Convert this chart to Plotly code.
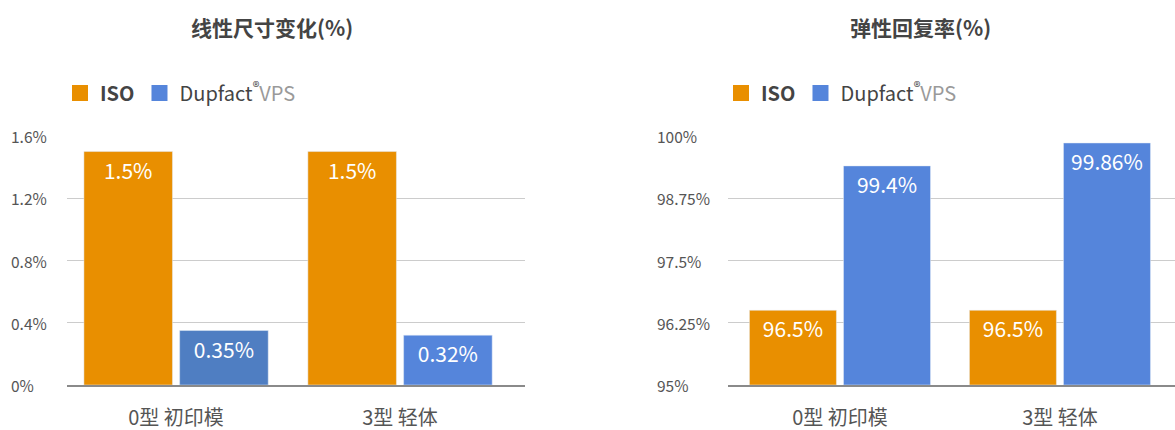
import plotly.graph_objects as go

categories = ["0型 初印模", "3型 轻体"]
linear_iso = [1.5, 1.5]
linear_dup = [0.35, 0.32]
recovery_iso = [96.5, 96.5]
recovery_dup = [99.4, 99.86]
left_ticks = [0, 0.4, 0.8, 1.2, 1.6]
left_ticktext = ["0%", "0.4%", "0.8%", "1.2%", "1.6%"]
right_ticks = [95, 96.25, 97.5, 98.75, 100]
right_ticktext = ["95%", "96.25%", "97.5%", "98.75%", "100%"]
titles = ["线性尺寸变化(%)", "弹性回复率(%)"]

ORANGE = "#E98F00"
BLUE = "#5585DB"
BLUE_DARK = "#4F7EC2"
FONT = "Noto Sans CJK SC, Noto Sans, sans-serif"

iso_name = "<b>ISO</b>"
dup_name = "Dupfact<sup>®</sup><span style='color:#9a9a9a'>VPS</span>"

fig = go.Figure()

def fmt(v):
    return ("%g" % v) + "%"

lab_font = dict(family=FONT, size=21, color="white")
bar_common = dict(textposition="inside", insidetextanchor="end", textfont=lab_font,
                  hoverinfo="skip", constraintext="none", textangle=0, showlegend=False)

fig.add_trace(go.Bar(x=categories, y=linear_iso, marker_color=ORANGE,
                     text=[fmt(v) for v in linear_iso], xaxis="x", yaxis="y", **bar_common))
fig.add_trace(go.Bar(x=categories, y=linear_dup, marker_color=[BLUE_DARK, BLUE],
                     text=[fmt(v) for v in linear_dup], xaxis="x", yaxis="y", **bar_common))
fig.add_trace(go.Bar(x=categories, y=[v - 95 for v in recovery_iso], base=95, marker_color=ORANGE,
                     text=[fmt(v) for v in recovery_iso], xaxis="x2", yaxis="y2", **bar_common))
fig.add_trace(go.Bar(x=categories, y=[v - 95 for v in recovery_dup], base=95, marker_color=BLUE,
                     text=[fmt(v) for v in recovery_dup], xaxis="x2", yaxis="y2", **bar_common))

# legend-only entries with larger square swatches
for lg, xa, ya in [("legend", "x", "y"), ("legend2", "x2", "y2")]:
    for nm, col in [(iso_name, ORANGE), (dup_name, BLUE)]:
        fig.add_trace(go.Scatter(x=[None], y=[None], mode="markers", name=nm,
                                 marker=dict(symbol="square", size=18, color=col),
                                 xaxis=xa, yaxis=ya, legend=lg, hoverinfo="skip"))

W, H = 1175, 430
ml, mr, mt, mb = 67, 0, 136, 45
pw = W - ml - mr
ph = H - mt - mb
def dx(px):
    return (px - ml) / pw
def dy(py):
    return (H - mb - py) / ph

axis_common = dict(showgrid=False, showline=True, linecolor="#8a8a8a", linewidth=2,
                   ticks="", ticklabelstandoff=14, automargin=False,
                   tickfont=dict(family=FONT, size=20, color="#555"), fixedrange=True)
yaxis_common = dict(showgrid=True, gridcolor="#cccccc", gridwidth=1, zeroline=False, showline=False,
                    ticks="", showticklabels=False, automargin=False, fixedrange=True)

leg_common = dict(orientation="h", xref="container", yref="container", yanchor="middle",
                  xanchor="left", font=dict(family=FONT, size=20, color="#444"),
                  itemsizing="trace", bgcolor="rgba(0,0,0,0)", traceorder="normal",
                  itemclick=False, itemdoubleclick=False, tracegroupgap=0)

annotations = []
for t, cx in zip(titles, [272, 920]):
    annotations.append(dict(text="<b>" + t + "</b>", x=dx(cx), y=dy(27), xref="paper", yref="paper",
                            xanchor="center", yanchor="middle", showarrow=False,
                            font=dict(family=FONT, size=21, color="#444")))
tick_font = dict(family=FONT, size=15.5, color="#555")
for v, t in zip(left_ticks, left_ticktext):
    annotations.append(dict(text=t, x=dx(9), y=v, xref="paper", yref="y", xanchor="left",
                            yanchor="middle", showarrow=False, font=tick_font))
for v, t in zip(right_ticks, right_ticktext):
    annotations.append(dict(text=t, x=dx(655), y=v, xref="paper", yref="y2", xanchor="left",
                            yanchor="middle", showarrow=False, font=tick_font))

fig.update_layout(
    width=W, height=H,
    margin=dict(l=ml, r=mr, t=mt, b=mb, autoexpand=False),
    paper_bgcolor="white", plot_bgcolor="white",
    barmode="group", bargap=0.145, bargroupgap=0.075,
    showlegend=True,
    font=dict(family=FONT, color="#444"),
    xaxis=dict(domain=[0, dx(525)], range=[-0.487, 1.558], anchor="y", **axis_common),
    yaxis=dict(domain=[0, 1], range=[0, 1.6], tickvals=left_ticks, anchor="x", **yaxis_common),
    xaxis2=dict(domain=[dx(728), 1], range=[-0.509, 1.523], anchor="y2", **axis_common),
    yaxis2=dict(domain=[0, 1], range=[95, 100], tickvals=right_ticks, anchor="x2", **yaxis_common),
    legend=dict(x=60 / W, y=1 - 93 / H, **leg_common),
    legend2=dict(x=721 / W, y=1 - 93 / H, **leg_common),
    annotations=annotations,
)

fig.write_html("out.html", config={"displayModeBar": False},
               post_script="document.body.style.margin='0px';")
